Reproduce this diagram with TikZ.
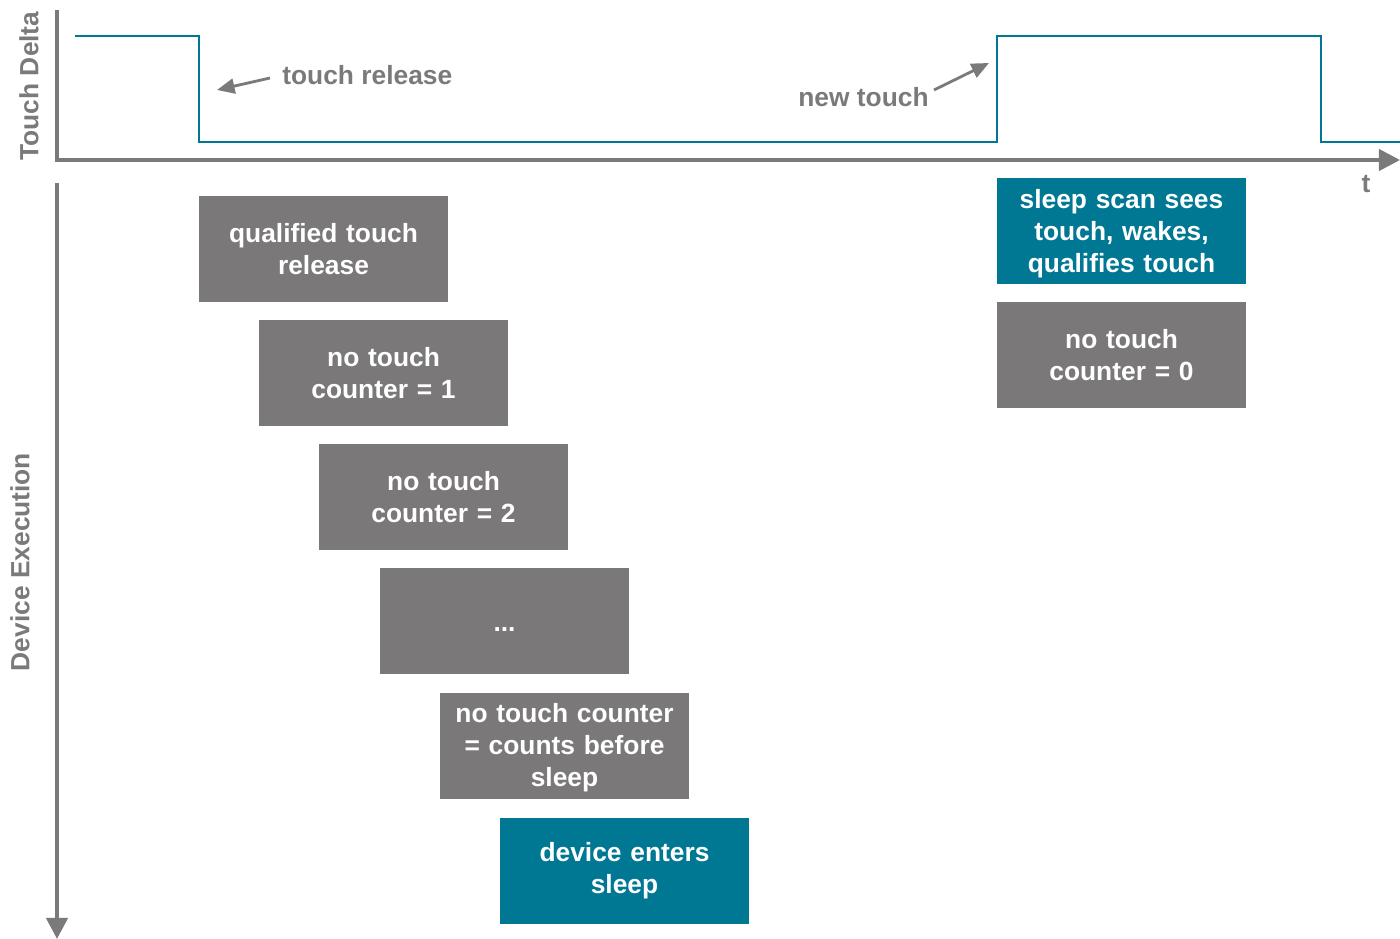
\documentclass[tikz,border=0pt]{standalone}
\usepackage{fontspec}
\setmainfont{Liberation Sans}
\usetikzlibrary{arrows.meta}
\definecolor{boxgray}{RGB}{122,120,121}
\definecolor{axisgray}{RGB}{122,122,122}
\definecolor{tealc}{RGB}{0,120,148}
\begin{document}
\begin{tikzpicture}[x=0.02cm,y=-0.02cm,
  every node/.style={font=\fontsize{15}{18.2}\selectfont\bfseries},
  blk/.style={rectangle,fill=boxgray,text=white,minimum width=4.98cm,minimum height=2.14cm,inner sep=0pt,align=center,text width=4.8cm},
  tealblk/.style={blk,fill=tealc},
  axis/.style={draw=axisgray,line width=2.3pt,-{Triangle[length=12pt,width=12pt]}},
  lbl/.style={text=axisgray,inner sep=0pt},
  lblarrow/.style={draw=axisgray,line width=1.6pt,-{Triangle[length=10pt,width=8.5pt]}},
  signal/.style={draw=tealc,line width=1.5pt}]
\useasboundingbox (0,0) rectangle (1400,939);
% axes
\coordinate (ytop) at (57,10);
\coordinate (orig) at (57,160);
\coordinate (xend) at (1400,160);
\coordinate (ebeg) at (57,183);
\coordinate (eend) at (57,939);
\draw[axis] (ytop) -- (orig) -- (xend);
\draw[axis] (ebeg) -- (eend);
% signal
\coordinate (s0) at (75,36);
\coordinate (s1) at (199,36);
\coordinate (s2) at (199,142);
\coordinate (s3) at (997,142);
\coordinate (s4) at (997,36);
\coordinate (s5) at (1321,36);
\coordinate (s6) at (1321,142);
\coordinate (s7) at (1400,142);
\draw[signal] (s0) -- (s1) -- (s2) -- (s3) -- (s4) -- (s5) -- (s6) -- (s7);
% axis labels
\node[lbl,rotate=90] (tdelta) at (29,86) {Touch Delta};
\node[lbl,rotate=90] (devex) at (20,562) {Device Execution};
\node[lbl] (tlab) at (1366,184) {t};
% annotations
\node[lbl,anchor=west] (trel) at (282,75) {touch release};
\coordinate (trA) at (270,78);
\coordinate (trB) at (217,90);
\draw[lblarrow] (trA) -- (trB);
\node[lbl,anchor=east] (ntouch) at (929,97) {new touch};
\coordinate (ntA) at (934,90);
\coordinate (ntB) at (989,63);
\draw[lblarrow] (ntA) -- (ntB);
% boxes
\node[blk] (b1) at (323.5,249) {qualified touch\\release};
\node[blk] (b2) at (383.5,373) {no touch\\counter = 1};
\node[blk] (b3) at (443.5,497) {no touch\\counter = 2};
\node[blk] (b4) at (504.5,621) {\raisebox{-6pt}[0pt][0pt]{...}};
\node[blk,text height=12.6pt] (b5) at (564.5,746) {no touch counter\\= counts before\\sleep};
\node[tealblk] (b6) at (624.5,871) {device enters\\sleep};
\node[tealblk,text height=14pt] (b7) at (1121.5,231) {sleep scan sees\\touch, wakes,\\qualifies touch};
\node[blk] (b8) at (1121.5,355) {no touch\\counter = 0};
\end{tikzpicture}
\end{document}
